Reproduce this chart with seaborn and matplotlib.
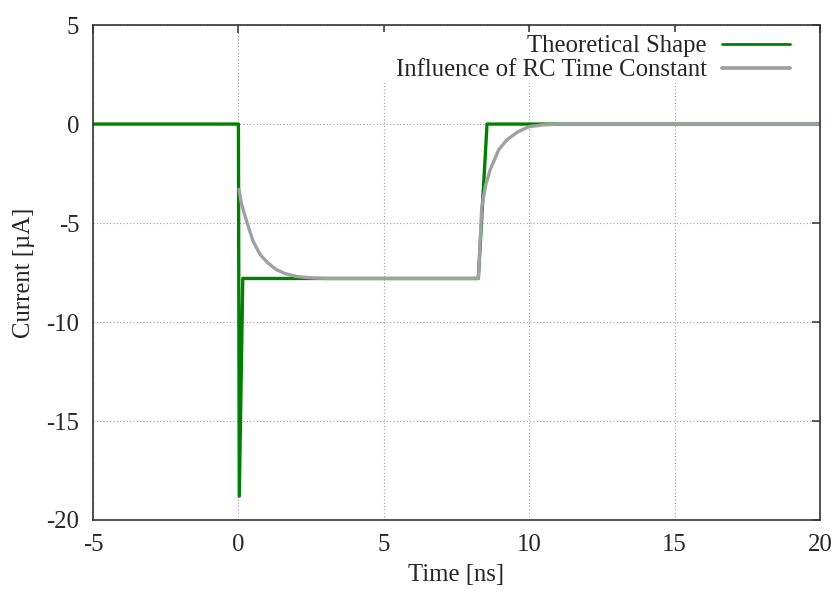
import pandas as pd
import matplotlib.pyplot as plt
import matplotlib.patches as mpatches
import seaborn as sns

# data
theory_t = [-5, 0, 0.03, 0.15, 8.25, 8.55, 20]
theory_i = [0, 0, -18.8, -7.8, -7.8, 0, 0]

rc_t = [0.02, 0.1, 0.3, 0.5, 0.75, 1.0, 1.3, 1.6, 2.0, 2.5, 3.0, 8.25,
        8.37, 8.5, 8.66, 8.95, 9.23, 9.6, 10.0, 10.5, 11.0, 20]
rc_i = [-3.3, -4.0, -5.0, -5.9, -6.6, -7.0, -7.35, -7.55, -7.7, -7.77, -7.8, -7.8,
        -4.2, -3.1, -2.3, -1.3, -0.8, -0.4, -0.13, -0.04, 0, 0]

labels = ["Theoretical Shape", "Influence of RC Time Constant"]
colors = ["#008000", "#a0a0a0"]

df = pd.concat([
    pd.DataFrame({"t": theory_t, "i": theory_i, "series": labels[0]}),
    pd.DataFrame({"t": rc_t, "i": rc_i, "series": labels[1]}),
])

sns.set_style("white")
plt.rcParams["font.family"] = ["Liberation Serif", "DejaVu Serif"]
plt.rcParams["axes.unicode_minus"] = False

fs = 17.8

fig = plt.figure(figsize=(8.38, 5.97), dpi=100)
ax = fig.add_axes([0.111, 0.129, 0.8675, 0.829])

sns.lineplot(data=df, x="t", y="i", hue="series", hue_order=labels,
             palette=colors, sort=False, estimator=None, linewidth=2.4, ax=ax)

ax.set_xlim(-5, 20)
ax.set_ylim(-20, 5)
ax.set_xticks(range(-5, 21, 5))
ax.set_yticks(range(-20, 6, 5))
ax.grid(True, color="#a0a0a0", linestyle=(0, (1, 2)), linewidth=0.8)
ax.set_axisbelow(True)

for s in ax.spines.values():
    s.set_color("#333333")
    s.set_linewidth(1.2)

ax.tick_params(direction="in", length=6, width=1.1, color="#333333",
               top=True, right=True, labelsize=fs, pad=10)

ax.set_xlabel("Time [ns]", fontsize=fs, labelpad=6)
ax.set_ylabel("Current [µA]", fontsize=fs, labelpad=8)

# white key background (keeps the top ticks visible)
ax.add_patch(mpatches.Rectangle((0.399, 0.883), 0.6, 0.103, transform=ax.transAxes,
                                facecolor="white", edgecolor="none", zorder=2.6))

leg = ax.legend(loc="upper right", bbox_to_anchor=(0.9587, 0.980), markerfirst=False,
                fontsize=fs, frameon=False, handlelength=2.75, handletextpad=0.62,
                labelspacing=0.07, borderaxespad=0, borderpad=0)
for h, w in zip(leg.get_lines(), [2.0, 2.7]):
    h.set_linewidth(w)

fig.savefig("out.png", dpi=100)
